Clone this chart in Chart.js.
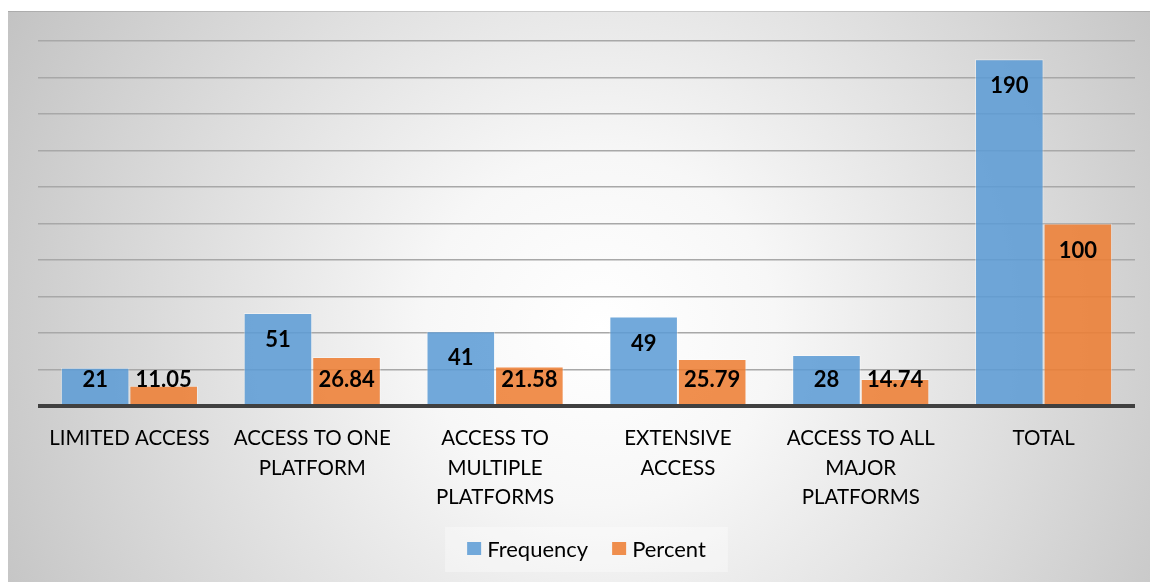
<!DOCTYPE html>
<html>
<head>
<meta charset="utf-8">
<title>Access to platforms</title>
<script src="https://cdn.jsdelivr.net/npm/chart.js@4/dist/chart.umd.min.js"></script>
<style>
  html, body { margin: 0; padding: 0; background: #fff; }
  #wrap { width: 1150px; height: 582px; position: relative; }
</style>
</head>
<body>
<div id="wrap"><canvas id="accessChart"></canvas></div>
<script>
// categories and series
const categories = [
  ['LIMITED ACCESS'],
  ['ACCESS TO ONE', 'PLATFORM'],
  ['ACCESS TO', 'MULTIPLE', 'PLATFORMS'],
  ['EXTENSIVE', 'ACCESS'],
  ['ACCESS TO ALL', 'MAJOR', 'PLATFORMS'],
  ['TOTAL'],
];
const frequency = [21, 51, 41, 49, 28, 190];
const percent = [11.05, 26.84, 21.58, 25.79, 14.74, 100];
const seriesNames = ['Frequency', 'Percent'];
const yMin = 0;
const yMax = 200;
const yStep = 20;

const FONT = 'Lato, "Open Sans", sans-serif';
const BLUE = 'rgba(91, 155, 213, 0.86)';
const ORANGE = 'rgba(237, 125, 49, 0.86)';

// gray radial backdrop behind the whole chart
const backdrop = {
  id: 'backdrop',
  beforeDraw(chart) {
    const ctx = chart.ctx;
    ctx.save();
    ctx.fillStyle = '#ffffff';
    ctx.fillRect(0, 0, chart.width, chart.height);
    const g = ctx.createRadialGradient(600, 330, 0, 600, 330, 700);
    g.addColorStop(0, '#ffffff');
    g.addColorStop(0.25, '#f7f7f7');
    g.addColorStop(1, '#c0c0c0');
    ctx.fillStyle = g;
    ctx.fillRect(8, 11, chart.width - 8, chart.height - 11);
    ctx.fillStyle = 'rgba(0,0,0,0.12)';
    ctx.fillRect(8, 11, chart.width - 8, 1);
    ctx.restore();
  },
};

// dark category axis line, drawn over the bar bottoms
const baseline = {
  id: 'baseline',
  afterDatasetsDraw(chart) {
    const {ctx, chartArea} = chart;
    const y = chart.scales.y.getPixelForValue(0);
    ctx.save();
    ctx.strokeStyle = '#404040';
    ctx.lineWidth = 4;
    ctx.beginPath();
    ctx.moveTo(chartArea.left, y);
    ctx.lineTo(chartArea.right, y);
    ctx.stroke();
    ctx.restore();
  },
};

// value labels near the top inside each bar
const barLabels = {
  id: 'barLabels',
  afterDatasetsDraw(chart) {
    const ctx = chart.ctx;
    ctx.save();
    ctx.font = 'bold 22px ' + FONT;
    ctx.fillStyle = '#000';
    ctx.textAlign = 'center';
    ctx.textBaseline = 'middle';
    chart.data.datasets.forEach((ds, di) => {
      chart.getDatasetMeta(di).data.forEach((bar, i) => {
        const y = Math.min(bar.y + 27, bar.base - 25);
        ctx.fillText(String(ds.data[i]), bar.x, y);
      });
    });
    ctx.restore();
  },
};

// legend in a light box under the axis labels
const legendBox = {
  id: 'legendBox',
  afterDraw(chart) {
    const {ctx, chartArea} = chart;
    ctx.save();
    ctx.font = '22px ' + FONT;
    ctx.textBaseline = 'middle';
    const sq = 14, gap = 6, between = 24, pad = 22;
    const items = chart.data.datasets.map((ds) => ({
      label: ds.label, color: ds.backgroundColor, w: ctx.measureText(ds.label).width,
    }));
    const total = items.reduce((s, it) => s + sq + gap + it.w, 0) + between * (items.length - 1);
    const cx = (chartArea.left + chartArea.right) / 2;
    const cy = 549;
    ctx.fillStyle = 'rgba(255,255,255,0.35)';
    ctx.fillRect(cx - total / 2 - pad, cy - 22, total + pad * 2, 45);
    let x = cx - total / 2;
    items.forEach((it) => {
      ctx.fillStyle = it.color;
      ctx.fillRect(x, cy - 7, sq, 13);
      ctx.fillStyle = '#000';
      ctx.fillText(it.label, x + sq + gap, cy + 1);
      x += sq + gap + it.w + between;
    });
    ctx.restore();
  },
};

new Chart(document.getElementById('accessChart'), {
  type: 'bar',
  data: {
    labels: categories,
    datasets: [
      {label: seriesNames[0], data: frequency, backgroundColor: BLUE},
      {label: seriesNames[1], data: percent, backgroundColor: ORANGE},
    ],
  },
  options: {
    responsive: true,
    maintainAspectRatio: false,
    devicePixelRatio: 1,
    animation: false,
    datasets: {
      bar: {
        categoryPercentage: 0.75,
        barPercentage: 1.0,
        borderWidth: 1,
        borderColor: 'rgba(255,255,255,0.4)',
      },
    },
    layout: {padding: {left: 38, right: 15, top: 41, bottom: 0}},
    plugins: {
      legend: {display: false},
      tooltip: {enabled: false},
    },
    scales: {
      x: {
        grid: {display: false},
        border: {display: false},
        ticks: {
          color: '#000',
          font: {family: FONT, size: 20.5, lineHeight: 1.44},
          padding: 10,
          autoSkip: false,
          maxRotation: 0,
        },
        afterFit: (scale) => { scale.height = 176; },
      },
      y: {
        min: yMin,
        max: yMax,
        ticks: {display: false, stepSize: yStep},
        border: {display: false},
        grid: {
          drawTicks: false,
          lineWidth: 1.5,
          color: (c) => (c.tick && c.tick.value === 0 ? 'rgba(0,0,0,0)' : '#a8a8a8'),
        },
        afterFit: (scale) => { scale.width = 0; },
      },
    },
  },
  plugins: [backdrop, baseline, barLabels, legendBox],
});
</script>
</body>
</html>
